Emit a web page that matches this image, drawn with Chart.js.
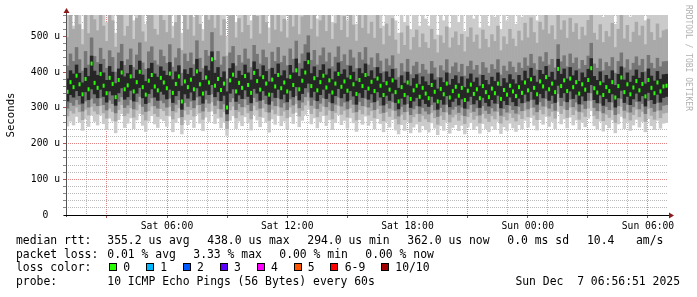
<!DOCTYPE html>
<html><head><meta charset="utf-8">
<script src="https://cdn.jsdelivr.net/npm/chart.js@4.4.0/dist/chart.umd.min.js"></script>
<style>
html,body{margin:0;padding:0;background:#fff;width:697px;height:297px;overflow:hidden;}
#wrap{position:relative;width:697px;height:297px;}
canvas{position:absolute;left:0;top:0;}
.t{position:absolute;font-family:"DejaVu Sans Mono",monospace;font-size:11.4px;line-height:14px;color:#000;white-space:pre;}
.box{position:absolute;width:6px;height:6px;border:1px solid #000;top:263px;}
#credit{position:absolute;left:683px;top:5px;font-family:"DejaVu Sans Mono",monospace;font-size:8px;color:#b0b0b0;writing-mode:vertical-rl;white-space:pre;line-height:10px;}
</style></head>
<body><div id="wrap">
<canvas id="c" width="697" height="297"></canvas>
<div id="credit">RRDTOOL / TOBI OETIKER</div>
<div class="t" style="left:16px;top:233px">median rtt:</div>
<div class="t" style="left:107.3px;top:233px">355.2 us avg</div>
<div class="t" style="left:207.3px;top:233px">438.0 us max</div>
<div class="t" style="left:307.3px;top:233px">294.0 us min</div>
<div class="t" style="left:407.3px;top:233px">362.0 us now</div>
<div class="t" style="left:507.3px;top:233px">0.0 ms sd</div>
<div class="t" style="left:587px;top:233px">10.4</div>
<div class="t" style="left:636px;top:233px">am/s</div>
<div class="t" style="left:16px;top:247px">packet loss:</div>
<div class="t" style="left:107.3px;top:247px">0.01 % avg</div>
<div class="t" style="left:193.3px;top:247px">3.33 % max</div>
<div class="t" style="left:279.3px;top:247px">0.00 % min</div>
<div class="t" style="left:365.3px;top:247px">0.00 % now</div>
<div class="t" style="left:16px;top:260px">loss color:</div>
<div id="lossrow"></div>
<div class="t" style="left:16px;top:274px">probe:</div>
<div class="t" style="left:107.3px;top:274px">10 ICMP Echo Pings (56 Bytes) every 60s</div>
<div class="t" style="right:17px;top:274px">Sun Dec  7 06:56:51 2025</div>
</div>
<script>
// ---- data (seconds, in micro units "u") ----
const med = [
345,372,358,390,366,338,381,352,424,370,
356,395,362,341,384,367,330,378,399,352,
363,388,346,372,401,358,337,376,392,360,
349,384,371,355,396,342,367,388,318,374,
358,379,352,402,366,340,385,371,436,362,
381,350,368,301,377,393,346,370,356,389,
364,342,398,375,351,386,368,337,379,360,
392,355,371,346,387,364,405,352,376,399,
428,361,383,349,372,390,357,377,343,368,
395,359,374,348,386,366,339,378,361,392,
354,373,347,382,362,336,369,351,377,344,
318,358,336,371,325,349,362,331,356,340,
327,364,345,318,353,338,368,329,347,359,
334,356,322,348,365,339,352,327,361,344,
330,354,341,368,325,350,337,362,346,333,
358,342,371,349,380,356,338,374,360,386,
352,368,344,409,361,377,347,382,358,372,
340,366,351,378,411,355,343,369,336,358,
347,372,329,361,385,344,366,338,357,375,
349,367,332,378,356,341,371,346,360,362];
const coreLo = [
318,336,329,347,333,312,344,322,352,338,
327,351,331,315,346,335,306,341,355,323,
330,348,318,340,356,327,311,339,352,329,
320,345,337,324,351,314,333,347,295,338,
326,343,321,355,332,312,348,336,364,330,
344,319,334,282,340,352,317,335,325,349,
331,313,353,340,320,347,334,309,342,328,
351,324,337,316,348,330,358,321,339,355,
368,329,345,319,336,351,325,340,313,333,
353,327,339,318,347,332,309,341,328,350,
323,338,316,344,329,307,334,320,340,314,
296,326,309,335,300,318,328,304,323,311,
303,331,315,295,322,309,333,302,317,326,
307,324,298,318,331,310,321,300,328,314,
304,322,312,334,299,319,308,329,316,305,
326,313,337,318,345,323,309,339,327,348,
320,334,314,362,328,341,316,346,325,337,
310,332,319,342,364,322,313,335,306,325,
316,338,301,327,348,314,331,308,324,340,
318,333,304,342,322,311,337,315,328,331];
const coreHi = [
382,405,396,421,398,371,412,389,446,404,
392,423,399,378,417,401,369,410,431,388,
397,420,383,407,432,393,375,411,426,396,
387,416,404,392,428,380,402,419,362,408,
395,412,389,437,401,378,418,405,458,398,
414,386,402,346,411,425,384,404,392,421,
399,379,430,409,388,419,403,374,412,395,
424,391,405,383,420,399,438,389,410,431,
455,397,416,386,406,422,393,410,380,402,
427,395,408,385,418,401,376,411,397,424,
389,405,383,414,397,372,402,387,409,379,
356,391,370,401,362,383,394,366,388,374,
364,396,379,354,385,372,399,365,381,391,
369,388,358,382,396,373,385,362,392,378,
366,387,375,399,361,383,371,394,380,368,
392,377,404,383,412,390,373,406,395,417,
387,401,379,437,395,410,382,414,391,405,
375,399,386,409,439,389,378,402,371,392,
382,405,364,395,416,379,399,373,390,407,
384,400,368,410,390,376,403,381,394,395];
const innerLo = [
298,314,306,322,309,290,318,301,326,312,
305,327,308,293,321,311,285,317,330,300,
307,322,296,316,331,303,289,314,327,305,
298,320,313,301,326,291,309,322,274,314,
303,318,299,329,308,290,323,312,338,306,
320,296,310,263,316,327,294,311,302,324,
308,291,328,316,298,322,311,287,318,305,
327,301,313,294,324,307,333,299,315,330,
343,306,321,297,312,327,302,316,291,309,
329,304,315,296,322,309,288,317,305,326,
301,314,294,320,306,286,311,298,316,292,
276,303,288,311,280,296,305,283,300,290,
282,308,293,275,300,288,309,281,295,303,
286,301,277,296,308,289,299,279,305,292,
283,299,290,311,278,297,287,306,294,284,
303,291,314,296,322,301,288,316,304,325,
298,311,292,339,305,318,294,323,302,315,
289,309,297,320,341,300,291,312,285,303,
294,315,280,305,325,292,309,287,302,317,
296,311,283,319,300,289,314,293,306,308];
const innerHi = [
418,452,431,470,436,404,459,421,497,445,
428,468,437,412,461,442,401,455,479,420,
436,466,414,449,483,427,409,458,472,433,
421,463,445,426,478,415,441,467,398,452,
431,455,422,489,440,411,462,446,512,434,
459,421,444,382,455,473,418,448,427,466,
438,414,476,451,424,463,442,409,457,431,
470,428,446,419,466,437,488,425,452,478,
503,434,462,421,447,469,430,455,416,443,
472,431,450,420,463,441,411,456,435,470,
421,441,414,453,432,402,438,419,447,411,
386,425,402,437,394,418,429,398,423,407,
396,431,413,386,419,405,436,397,416,427,
401,423,390,417,432,407,420,394,428,413,
398,422,409,436,393,418,404,430,415,400,
427,412,441,418,451,425,407,444,430,456,
421,437,413,478,430,447,416,452,426,441,
410,434,420,446,482,424,412,438,405,428,
417,442,398,431,455,413,436,407,426,444,
419,437,402,448,426,411,440,416,430,431];
const midLo = [
276,291,284,301,288,266,295,279,303,290,
282,305,285,270,298,289,262,294,308,277,
284,299,273,293,309,281,265,291,304,283,
275,297,291,278,303,268,287,299,252,292,
281,294,276,307,285,267,300,289,316,283,
297,273,288,241,293,304,271,289,279,301,
285,268,306,293,275,299,288,264,295,282,
304,278,290,271,301,284,311,276,292,307,
320,283,298,274,289,304,279,293,268,286,
306,281,292,273,299,286,265,294,282,303,
279,291,271,297,283,263,288,275,293,269,
254,281,266,289,258,274,283,261,278,268,
260,286,271,253,278,266,287,259,273,281,
264,279,255,274,286,267,277,257,283,270,
261,277,268,289,256,275,265,284,272,262,
281,269,292,274,300,279,266,294,282,303,
276,289,270,317,283,296,272,301,280,293,
267,287,275,298,319,278,269,290,263,281,
272,293,258,283,303,270,287,265,280,295,
274,289,261,297,278,267,292,271,284,286];
const midHi = [
498,560,521,590,534,478,575,509,620,548,
517,602,530,487,571,545,471,566,610,502,
529,588,493,552,615,514,486,573,594,521,
505,593,546,512,608,496,540,584,462,561,
520,571,502,625,535,488,582,547,640,524,
569,503,548,446,559,597,497,551,512,586,
532,494,604,557,508,585,540,481,575,519,
598,514,549,497,590,528,622,506,556,606,
640,521,583,500,545,592,515,566,493,537,
604,518,557,498,586,533,488,562,524,598,
508,541,496,562,523,478,536,502,551,491,
452,511,476,530,463,498,519,470,508,484,
468,521,492,455,503,482,528,469,497,514,
476,507,458,499,525,485,505,466,519,493,
470,506,487,530,461,500,479,521,494,473,
516,489,538,497,553,512,482,541,519,561,
508,531,492,596,519,545,496,552,513,537,
492,527,503,546,602,510,491,534,484,515,
500,538,470,521,565,494,532,485,513,541,
503,530,478,549,512,490,536,497,517,520];
const outerLo = [
248,262,251,275,259,236,268,247,279,261,
251,279,255,238,270,262,229,266,283,244,
256,271,241,265,283,250,233,262,277,254,
244,268,263,247,276,232,258,271,226,265,
252,266,244,281,256,235,273,261,290,255,
270,243,259,222,264,277,241,262,249,274,
257,237,280,265,246,272,259,231,268,253,
278,249,262,240,274,255,286,246,264,281,
295,254,271,243,260,277,249,265,238,258,
280,252,264,242,271,257,233,266,253,276,
250,263,240,269,255,232,259,245,266,237,
226,252,236,261,229,245,254,231,249,238,
231,257,242,224,249,236,259,228,244,252,
235,250,226,245,258,238,248,228,255,241,
232,248,239,261,227,246,236,256,243,233,
252,240,264,245,272,250,237,266,253,275,
247,261,241,289,254,268,243,273,251,265,
238,259,246,270,291,249,240,262,234,252,
243,265,229,254,275,241,259,236,251,267,
245,261,232,269,249,238,264,242,256,258];
const outerHi = [
590,640,530,700,610,520,680,580,720,600,
560,690,620,540,650,600,510,640,700,570,
610,660,545,630,700,590,535,650,680,600,
580,670,620,565,690,530,610,660,510,640,
600,650,555,710,615,520,660,630,730,590,
640,560,620,500,630,680,540,625,575,660,
610,545,690,640,565,660,615,525,650,590,
680,570,625,545,670,600,710,560,635,690,
730,590,660,550,615,670,575,640,540,605,
690,585,630,545,665,600,535,640,590,680,
590,620,560,650,600,530,610,570,640,545,
510,590,540,615,520,565,600,530,585,550,
530,605,560,505,575,545,610,525,565,595,
540,585,515,570,610,550,580,525,600,560,
530,580,555,615,520,575,545,605,565,535,
595,555,625,565,645,590,545,630,600,655,
585,615,560,690,600,635,565,640,590,620,
565,610,580,635,700,590,565,620,555,600,
575,625,535,605,655,570,615,555,595,630,
580,615,545,640,595,560,620,570,600,605];
// time axis: hours since Sat 00:00
const startHour = 0.96;
const endHour = 31.0;
const gridHours = [1,2,3,4,5,6,7,8,9,10,11,12,13,14,15,16,17,18,19,20,21,22,23,24,25,26,27,28,29,30];
const xTickHours = [6,12,18,24,30];
const xTickLabels = ['Sat 06:00','Sat 12:00','Sat 18:00','Sun 00:00','Sun 06:00'];
const lossLabels = ['0','1','2','3','4','5','6-9','10/10'];
const lossColors = ['#26ff00','#00b8ff','#0059ff','#5e00ff','#ff00ff','#ff5500','#ff0000','#a10000'];

// ---- loss colour legend row ----
(function(){
  const row = document.getElementById('lossrow');
  let x = 109;
  lossLabels.forEach((lab, k) => {
    const b = document.createElement('div');
    b.className = 'box'; b.style.left = x + 'px'; b.style.background = lossColors[k];
    row.appendChild(b);
    const t = document.createElement('div');
    t.className = 't'; t.style.left = (x + 14.3) + 'px'; t.style.top = '260px'; t.textContent = lab;
    row.appendChild(t);
    x += 36.9 + (lab.length - 1) * 6.85;
  });
})();

// ---- chart ----
const N = med.length;
const xs = med.map((_, i) => startHour + (i + 0.5) * (endHour - startHour) / N);
const band = (lo, hi) => lo.map((v, i) => ({x: xs[i], y: [v, hi[i]]}));
const MAJ = 'rgba(215,90,90,0.75)';
const MIN = 'rgba(140,140,140,0.6)';
const FONT = 'DejaVu Sans Mono';

const barDs = (lo, hi, color, order) => ({
  type: 'bar', data: band(lo, hi), backgroundColor: color, borderWidth: 0,
  grouped: false, order: order, barThickness: 3.5, inflateAmount: 0
});

const axesPlugin = {
  id: 'axesPlugin',
  afterDraw(chart) {
    const {ctx, chartArea: a} = chart;
    ctx.save();
    ctx.lineWidth = 1;
    ctx.strokeStyle = '#555';
    ctx.beginPath(); ctx.moveTo(a.left + 0.5, a.bottom + 2); ctx.lineTo(a.left + 0.5, a.top - 4); ctx.stroke();
    ctx.strokeStyle = '#000';
    ctx.beginPath(); ctx.moveTo(a.left - 2, a.bottom + 0.5); ctx.lineTo(a.right + 2, a.bottom + 0.5); ctx.stroke();
    ctx.fillStyle = '#8b1a1a';
    ctx.beginPath(); ctx.moveTo(a.left + 0.5, a.top - 7); ctx.lineTo(a.left - 2.5, a.top - 2); ctx.lineTo(a.left + 3.5, a.top - 2); ctx.closePath(); ctx.fill();
    ctx.beginPath(); ctx.moveTo(a.right + 6, a.bottom + 0.5); ctx.lineTo(a.right + 1, a.bottom - 2.5); ctx.lineTo(a.right + 1, a.bottom + 3.5); ctx.closePath(); ctx.fill();
    ctx.restore();
  }
};

new Chart(document.getElementById('c'), {
  type: 'bar',
  data: {
    datasets: [
      barDs(outerLo, outerHi, '#cbcbcb', 5),
      barDs(midLo, midHi, '#a9a9a9', 4),
      barDs(innerLo, innerHi, '#767676', 3),
      barDs(coreLo, coreHi, '#262626', 2),
      {
        type: 'line', data: med.map((v, i) => ({x: xs[i], y: v})), showLine: false, order: 1,
        pointStyle: 'line', pointRotation: 90, pointRadius: 2, pointBorderWidth: 2,
        pointBorderColor: '#26ff00', pointBackgroundColor: '#26ff00', pointHoverRadius: 0
      }
    ]
  },
  options: {
    responsive: false, animation: false, events: [],
    layout: {padding: {left: 0, right: 29, top: 15, bottom: 62}},
    plugins: {legend: {display: false}, tooltip: {enabled: false}},
    scales: {
      x: {
        type: 'linear', min: startHour, max: endHour, offset: false, z: 1,
        afterBuildTicks: s => { s.ticks = gridHours.map(v => ({value: v})); },
        afterFit: s => { s.height = 20; },
        grid: {
          offset: false, lineWidth: 1, tickLength: 3,
          color: c => (c.tick && c.tick.value % 3 === 0) ? MAJ : MIN,
          tickColor: c => (c.tick && c.tick.value % 3 === 0) ? '#b05050' : 'rgba(0,0,0,0)'
        },
        border: {display: false, dash: [1, 1]},
        ticks: {
          autoSkip: false, maxRotation: 0, minRotation: 0, padding: 2.5, color: '#000',
          font: {family: FONT, size: 9.7},
          callback: v => { const k = xTickHours.indexOf(v); return k >= 0 ? xTickLabels[k] : ''; }
        }
      },
      y: {
        min: 0, max: 560, z: 1,
        afterFit: s => { s.width = 66; },
        grid: {
          lineWidth: 1, tickLength: 3,
          color: c => (c.tick && c.tick.value % 100 === 0) ? MAJ : MIN,
          tickColor: c => (c.tick && c.tick.value % 100 === 0) ? '#b05050' : '#888'
        },
        border: {display: false, dash: [1, 1]},
        ticks: {
          stepSize: 20, autoSkip: false, crossAlign: 'center', padding: 3, color: '#000',
          font: {family: FONT, size: 9.7},
          callback: v => v % 100 === 0 ? (v === 0 ? '0' : v + ' u') : ''
        },
        title: {display: true, text: 'Seconds', color: '#000', font: {family: FONT, size: 10.7}, padding: {top: 4.5, bottom: 0}}
      }
    }
  },
  plugins: [axesPlugin]
});
</script>
</body></html>
